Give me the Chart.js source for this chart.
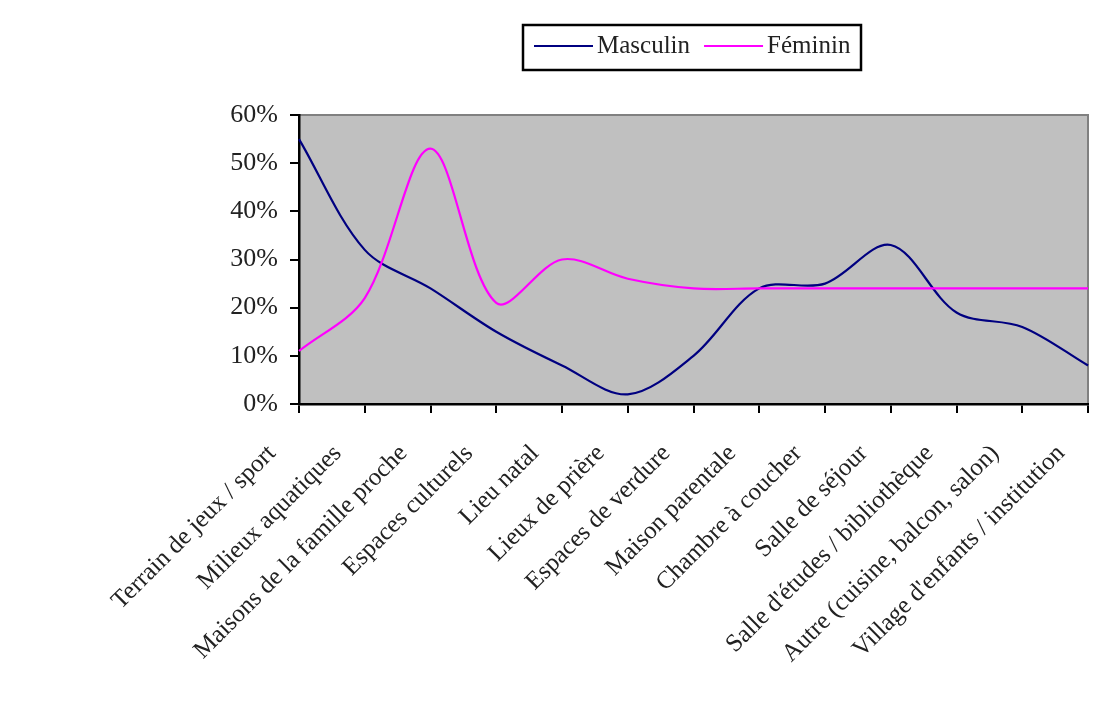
<!DOCTYPE html>
<html>
<head>
<meta charset="utf-8">
<script src="https://cdn.jsdelivr.net/npm/chart.js@4/dist/chart.umd.min.js"></script>
<style>
  html, body { margin: 0; padding: 0; background: #fff; }
  #wrap { width: 1098px; height: 702px; }
</style>
</head>
<body>
<div id="wrap"><canvas id="c" width="1098" height="702"></canvas></div>
<script>
// Categories (lieux)
const categories = [
  "Terrain de jeux / sport",
  "Milieux aquatiques",
  "Maisons de la famille proche",
  "Espaces culturels",
  "Lieu natal",
  "Lieux de prière",
  "Espaces de verdure",
  "Maison parentale",
  "Chambre à coucher",
  "Salle de séjour",
  "Salle d'études / bibliothèque",
  "Autre (cuisine, balcon, salon)",
  "Village d'enfants / institution"
];

// Shares in percent
const masculin = [55, 32, 24, 15, 8, 2, 10, 24, 25, 33, 19, 16, 8];
const feminin  = [11, 22, 53, 21, 30, 26, 24, 24, 24, 24, 24, 24, 24];

const yTicks = [0, 10, 20, 30, 40, 50, 60];

const seriesNames = ["Masculin", "Féminin"];
const seriesColors = ["#000080", "#FF00FF"];

const serif = "'Liberation Serif', 'Times New Roman', serif";

// Grey plot background with a thin grey frame on top/right
const plotFrame = {
  id: 'plotFrame',
  beforeDraw(chart) {
    const { ctx, chartArea: a } = chart;
    ctx.save();
    ctx.fillStyle = '#C0C0C0';
    ctx.fillRect(a.left, a.top, a.right - a.left, a.bottom - a.top);
    ctx.strokeStyle = '#808080';
    ctx.lineWidth = 2;
    ctx.beginPath();
    ctx.moveTo(a.left, a.top);
    ctx.lineTo(a.right, a.top);
    ctx.lineTo(a.right, a.bottom);
    ctx.stroke();
    ctx.restore();
  }
};

// Boxed legend above the plot
const boxedLegend = {
  id: 'boxedLegend',
  afterDraw(chart) {
    const { ctx } = chart;
    const box = { x: 523, y: 25, w: 338, h: 45 };
    ctx.save();
    ctx.fillStyle = '#fff';
    ctx.fillRect(box.x, box.y, box.w, box.h);
    ctx.strokeStyle = '#000';
    ctx.lineWidth = 2.5;
    ctx.strokeRect(box.x, box.y, box.w, box.h);
    ctx.font = "25px " + serif;
    ctx.textBaseline = 'middle';
    ctx.fillStyle = '#222';
    let x = box.x + 11;
    const cy = box.y + 21;
    chart.data.datasets.forEach((ds) => {
      ctx.strokeStyle = ds.borderColor;
      ctx.lineWidth = 2;
      ctx.beginPath();
      ctx.moveTo(x, cy);
      ctx.lineTo(x + 59, cy);
      ctx.stroke();
      x += 63;
      ctx.fillText(ds.label, x, cy);
      x += ctx.measureText(ds.label).width + 14;
    });
    ctx.restore();
  }
};

new Chart(document.getElementById('c'), {
  type: 'line',
  data: {
    labels: categories,
    datasets: [
      { label: seriesNames[0], data: masculin, borderColor: seriesColors[0], borderWidth: 2.2, pointRadius: 0, tension: 0.33, fill: false, order: 1 },
      { label: seriesNames[1], data: feminin,  borderColor: seriesColors[1], borderWidth: 2.2, pointRadius: 0, tension: 0.33, fill: false, order: 0 }
    ]
  },
  options: {
    responsive: false,
    animation: false,
    layout: { padding: { top: 115, right: 10, left: 0, bottom: 0 } },
    plugins: {
      legend: { display: false },
      tooltip: { enabled: false }
    },
    scales: {
      x: {
        offset: false,
        afterFit(s) { s.height = 298; s.paddingRight = 0; s.paddingLeft = 0; },
        grid: { drawOnChartArea: false, color: '#000', tickLength: 9, lineWidth: 2 },
        border: { color: '#000', width: 2.5 },
        ticks: {
          autoSkip: false, maxRotation: 45, minRotation: 45,
          color: '#222', font: { family: serif, size: 25 },
          labelOffset: -27, padding: 26
        }
      },
      y: {
        min: 0, max: 60,
        afterFit(s) { s.width = 299; },
        afterBuildTicks(s) { s.ticks = yTicks.map(v => ({ value: v })); },
        grid: { drawOnChartArea: false, color: '#000', tickLength: 9, lineWidth: 2 },
        border: { color: '#000', width: 2.5 },
        ticks: {
          color: '#222', padding: 12,
          font: { family: serif, size: 26 },
          callback: v => v + '%'
        }
      }
    }
  },
  plugins: [plotFrame, boxedLegend]
});
</script>
</body>
</html>
